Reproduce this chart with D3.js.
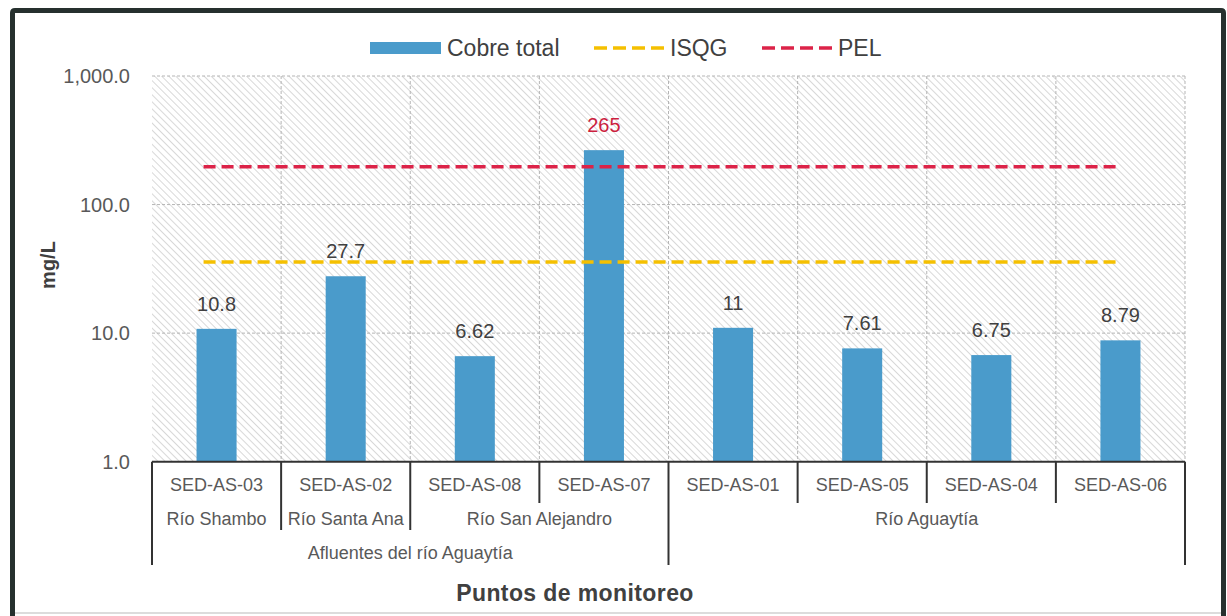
<!DOCTYPE html>
<html>
<head>
<meta charset="utf-8">
<script src="https://cdn.jsdelivr.net/npm/d3@7"></script>
<style>
  body { margin: 0; background: #fff; }
  text { font-family: "Liberation Sans", Arial, sans-serif; }
</style>
</head>
<body>
<div id="chart"></div>
<script>
// data
const puntos = ["SED-AS-03", "SED-AS-02", "SED-AS-08", "SED-AS-07", "SED-AS-01", "SED-AS-05", "SED-AS-04", "SED-AS-06"];
const rios = ["Río Shambo", "Río Santa Ana", "Río San Alejandro", "Río San Alejandro", "Río Aguaytía", "Río Aguaytía", "Río Aguaytía", "Río Aguaytía"];
const cuencas = ["Afluentes del río Aguaytía", "Afluentes del río Aguaytía", "Afluentes del río Aguaytía", "Afluentes del río Aguaytía", "", "", "", ""];
const cobre = [10.8, 27.7, 6.62, 265, 11, 7.61, 6.75, 8.79];
const isqg = 35.7;
const pel = 197;
const yTicks = [1, 10, 100, 1000];

const W = 1227, H = 616;
const plotL = 152, plotR = 1185, plotT = 76, plotB = 461.7;

const svg = d3.select("#chart").append("svg")
  .attr("width", W)
  .attr("height", H);

// hatch for the plot area
const defs = svg.append("defs");
defs.append("pattern")
  .attr("id", "hatch")
  .attr("patternUnits", "userSpaceOnUse")
  .attr("width", 5).attr("height", 5)
  .attr("patternTransform", "rotate(-45)")
  .append("line")
    .attr("x1", 0).attr("y1", 0).attr("x2", 0).attr("y2", 5)
    .attr("stroke", "#bdbdbd").attr("stroke-width", 1.2);

// outer frame
svg.append("path")
  .attr("d", `M12.5,620 L12.5,13 Q12.5,10.5 15,10.5 L1221,10.5 Q1223.5,10.5 1223.5,13 L1223.5,620`)
  .attr("fill", "none")
  .attr("stroke", "#26302e")
  .attr("stroke-width", 5);
svg.append("line")
  .attr("x1", 15).attr("x2", 1221).attr("y1", 613).attr("y2", 613)
  .attr("stroke", "#d0d0d0").attr("stroke-width", 1.5);

// scales
const x = d3.scaleBand()
  .domain(puntos)
  .range([plotL, plotR])
  .paddingInner(0)
  .paddingOuter(0);

const y = d3.scaleLog()
  .domain([1, 1000])
  .range([plotB, plotT]);

const barW = x.bandwidth() * 0.31;

// plot background
svg.append("rect")
  .attr("x", plotL).attr("y", plotT)
  .attr("width", plotR - plotL).attr("height", plotB - plotT)
  .attr("fill", "url(#hatch)");

// grid lines
svg.append("g")
  .selectAll("line")
  .data(yTicks.slice(1))
  .join("line")
    .attr("x1", plotL).attr("x2", plotR)
    .attr("y1", d => y(d)).attr("y2", d => y(d))
    .attr("stroke", "#b5b5b5").attr("stroke-dasharray", "3,2");
svg.append("g")
  .selectAll("line")
  .data(puntos.slice(1).concat(["end"]))
  .join("line")
    .attr("x1", d => d === "end" ? plotR : x(d))
    .attr("x2", d => d === "end" ? plotR : x(d))
    .attr("y1", plotT).attr("y2", plotB)
    .attr("stroke", "#b5b5b5").attr("stroke-dasharray", "3,2");

// y axis labels
const fmt = d3.format(",.1f");
svg.append("g")
  .selectAll("text")
  .data(yTicks)
  .join("text")
    .attr("x", 130)
    .attr("y", d => y(d))
    .attr("dy", "0.35em")
    .attr("text-anchor", "end")
    .style("font-size", "20px")
    .style("fill", "#595959")
    .text(d => fmt(d));

svg.append("text")
  .attr("transform", `translate(55,265) rotate(-90)`)
  .attr("text-anchor", "middle")
  .style("font-size", "20px")
  .style("font-weight", "bold")
  .style("fill", "#404040")
  .text("mg/L");

// bars
svg.append("g")
  .selectAll("rect")
  .data(cobre)
  .join("rect")
    .attr("x", (d, i) => x(puntos[i]) + (x.bandwidth() - barW) / 2)
    .attr("y", d => y(d))
    .attr("width", barW)
    .attr("height", d => plotB - y(d))
    .attr("fill", "#4a9bcb");

// value labels
svg.append("g")
  .selectAll("text")
  .data(cobre)
  .join("text")
    .attr("x", (d, i) => x(puntos[i]) + x.bandwidth() / 2)
    .attr("y", d => y(d) - 18)
    .attr("text-anchor", "middle")
    .style("font-size", "20px")
    .style("fill", d => d > pel ? "#cc1f3f" : "#404040")
    .text(d => String(d));

// guideline series, from first to last category centre
const lineX1 = x(puntos[0]) + x.bandwidth() / 2;
const lineX2 = x(puntos[puntos.length - 1]) + x.bandwidth() / 2;
[[isqg, "#f5c000"], [pel, "#dc2348"]].forEach(([v, c]) => {
  svg.append("line")
    .attr("x1", lineX1 - 13).attr("x2", lineX2)
    .attr("y1", y(v)).attr("y2", y(v))
    .attr("stroke", c)
    .attr("stroke-width", 3.5)
    .attr("stroke-dasharray", "12,6");
});

// multi-level category axis
const ax = svg.append("g").attr("stroke", "#333").attr("stroke-width", 2);
ax.append("line")
  .attr("x1", plotL).attr("x2", plotR)
  .attr("y1", plotB).attr("y2", plotB);

const rowY = [485, 519, 553];
const lineEnd = [503, 530, 565];

// edges of the axis table
[plotL, plotR].forEach(px => {
  ax.append("line").attr("x1", px).attr("x2", px)
    .attr("y1", plotB).attr("y2", lineEnd[2]);
});
// dividers between categories
puntos.slice(1).forEach((p, k) => {
  const i = k + 1;
  let lvl = 0;
  if (cuencas[i] !== cuencas[i - 1]) lvl = 2;
  else if (rios[i] !== rios[i - 1]) lvl = 1;
  ax.append("line")
    .attr("x1", x(p)).attr("x2", x(p))
    .attr("y1", plotB).attr("y2", lineEnd[lvl]);
});

// labels for each level, merged over runs
function runs(arr) {
  const out = [];
  arr.forEach((v, i) => {
    if (out.length && out[out.length - 1].v === v) out[out.length - 1].end = i;
    else out.push({v: v, start: i, end: i});
  });
  return out;
}
[puntos, rios, cuencas].forEach((arr, lvl) => {
  svg.append("g")
    .selectAll("text")
    .data(runs(arr))
    .join("text")
      .attr("x", d => (x(puntos[d.start]) + x(puntos[d.end]) + x.bandwidth()) / 2)
      .attr("y", rowY[lvl])
      .attr("dy", "0.35em")
      .attr("text-anchor", "middle")
      .style("font-size", "18px")
      .style("fill", "#595959")
      .text(d => d.v);
});

svg.append("text")
  .attr("x", 575).attr("y", 593)
  .attr("dy", "0.35em")
  .attr("text-anchor", "middle")
  .style("font-size", "23px")
  .style("font-weight", "bold")
  .style("letter-spacing", "0.4px")
  .style("fill", "#404040")
  .text("Puntos de monitoreo");

// legend
const lg = svg.append("g");
lg.append("rect")
  .attr("x", 370).attr("y", 42).attr("width", 71).attr("height", 12)
  .attr("fill", "#4a9bcb");
lg.append("text").attr("x", 447).attr("y", 48).attr("dy", "0.35em")
  .style("font-size", "23px").style("fill", "#404040").text("Cobre total");
[[594, "#f5c000", "ISQG"], [762, "#dc2348", "PEL"]].forEach(([lx, c, t]) => {
  lg.append("line")
    .attr("x1", lx).attr("x2", lx + 73)
    .attr("y1", 48).attr("y2", 48)
    .attr("stroke", c).attr("stroke-width", 3.5)
    .attr("stroke-dasharray", "13,6");
  lg.append("text").attr("x", lx + 76).attr("y", 48).attr("dy", "0.35em")
    .style("font-size", "23px").style("fill", "#404040").text(t);
});
</script>
</body>
</html>
